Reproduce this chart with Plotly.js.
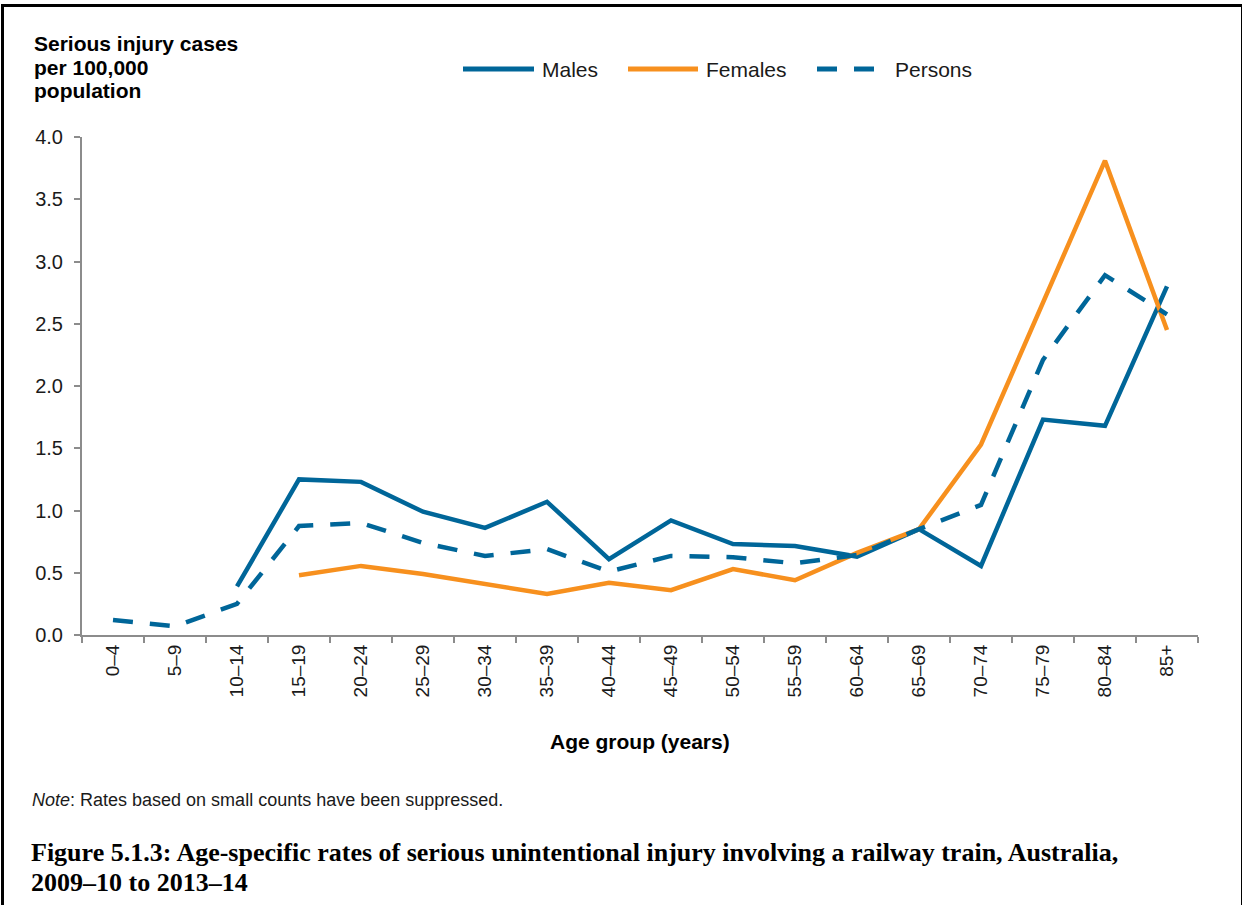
<!DOCTYPE html>
<html>
<head>
<meta charset="utf-8">
<script src="https://cdn.plot.ly/plotly-3.0.1.min.js"></script>
<style>
html,body{margin:0;padding:0;background:#fff;}
#wrap{position:relative;width:1242px;height:905px;overflow:hidden;}
#frame{position:absolute;left:1px;top:4px;width:1237px;height:920px;border:3px solid #000;pointer-events:none;z-index:5;}
#chart{position:absolute;left:0;top:0;width:1242px;height:905px;}
</style>
</head>
<body>
<div id="wrap"><div id="chart"></div><div id="frame"></div></div>
<script>
const ageGroups = ["0–4","5–9","10–14","15–19","20–24","25–29","30–34","35–39","40–44","45–49","50–54","55–59","60–64","65–69","70–74","75–79","80–84","85+"];
const males   = [null, null, 0.39, 1.25, 1.23, 0.99, 0.86, 1.07, 0.61, 0.92, 0.73, 0.715, 0.63, 0.85, 0.555, 1.73, 1.68, 2.80];
const females = [null, null, null, 0.48, 0.555, 0.49, 0.41, 0.33, 0.42, 0.36, 0.53, 0.44, 0.66, 0.85, 1.53, 2.67, 3.81, 2.45];
const persons = [0.12, 0.07, 0.25, 0.875, 0.90, 0.74, 0.635, 0.69, 0.51, 0.635, 0.625, 0.576, 0.643, 0.85, 1.045, 2.21, 2.89, 2.575];
const yTicks = [0, 0.5, 1.0, 1.5, 2.0, 2.5, 3.0, 3.5, 4.0];
const seriesNames = ["Males", "Females", "Persons"];
const yTitleLines = ["Serious injury cases", "per 100,000", "population"];
const captionLines = ["Figure 5.1.3: Age-specific rates of serious unintentional injury involving a railway train, Australia,", "2009–10 to 2013–14"];

const BLUE = "#006699", ORANGE = "#F7901E";
const DASH = "20px,17px";
const LW = 4.5;
const W = 1242, H = 905, L = 82, R = 44, T = 137, B = 270;
const pw = W - L - R, ph = H - T - B;
const px = x => (x - L) / pw;
const py = y => (H - B - y) / ph;

const traces = [
  {x: ageGroups, y: males, name: seriesNames[0], type: "scatter", mode: "lines", line: {color: BLUE, width: LW}},
  {x: ageGroups, y: females, name: seriesNames[1], type: "scatter", mode: "lines", line: {color: ORANGE, width: LW}},
  {x: ageGroups, y: persons, name: seriesNames[2], type: "scatter", mode: "lines", line: {color: BLUE, width: LW, dash: DASH}}
];

const txt = "#1a1a1a";
const SANS = "Liberation Sans, Arial, sans-serif";
const SERIF = "Liberation Serif, serif";
function ann(o) { return Object.assign({xref: "paper", yref: "paper", showarrow: false}, o); }

// custom legend
const legendItems = [
  {name: seriesNames[0], color: BLUE, dash: "solid", x0: 463, x1: 534, tx: 540},
  {name: seriesNames[1], color: ORANGE, dash: "solid", x0: 628, x1: 698, tx: 704},
  {name: seriesNames[2], color: BLUE, dash: DASH, x0: 817, x1: 877, tx: 893}
];
const LEG_Y = 69;

const annotations = [];
yTitleLines.forEach((t, i) => annotations.push(ann({text: "<b>" + t + "</b>", x: px(32), y: py(44 + 23.5 * i), xanchor: "left", yanchor: "middle", font: {family: SANS, size: 21, color: "#000"}})));
legendItems.forEach(it => annotations.push(ann({text: it.name, x: px(it.tx), y: py(LEG_Y), xanchor: "left", yanchor: "middle", font: {family: SANS, size: 21, color: txt}})));
annotations.push(
  ann({text: "<b>Age group (years)</b>", x: px(640), y: py(741), xanchor: "center", yanchor: "middle", font: {family: SANS, size: 21, color: "#000"}}),
  ann({text: "<i>Note</i>: Rates based on small counts have been suppressed.", x: px(30), y: py(800), xanchor: "left", yanchor: "middle", font: {family: SANS, size: 18, color: txt}})
);
captionLines.forEach((t, i) => annotations.push(ann({text: "<b>" + t + "</b>", x: px(29), y: py(852 + 30 * i), xanchor: "left", yanchor: "middle", font: {family: SERIF, size: 26, color: "#000"}})));

const shapes = legendItems.map(it => ({type: "line", xref: "paper", yref: "paper", x0: px(it.x0), x1: px(it.x1), y0: py(LEG_Y), y1: py(LEG_Y), line: {color: it.color, width: 5, dash: it.dash}}));

const layout = {
  width: W, height: H,
  margin: {l: L, r: R, t: T, b: B, pad: 0},
  paper_bgcolor: "#fff", plot_bgcolor: "#fff",
  showlegend: false,
  font: {family: SANS, size: 18, color: txt},
  xaxis: {
    type: "category", categoryorder: "array", categoryarray: ageGroups,
    range: [-0.5, 17.5], tickangle: -90, tickson: "boundaries",
    ticks: "outside", ticklen: 6, tickwidth: 2, tickcolor: "#8c8c8c",
    showline: true, linecolor: "#8c8c8c", linewidth: 2, showgrid: false, zeroline: false,
    tickfont: {family: SANS, size: 19, color: txt}, fixedrange: true
  },
  yaxis: {
    range: [0, 4], tickvals: yTicks, tickformat: ".1f",
    ticks: "outside", ticklen: 6, tickwidth: 2, tickcolor: "#8c8c8c",
    showline: true, linecolor: "#8c8c8c", linewidth: 2, showgrid: false, zeroline: false,
    tickfont: {family: SANS, size: 20, color: txt}, ticklabelstandoff: 7, fixedrange: true
  },
  annotations: annotations,
  shapes: shapes
};

Plotly.newPlot("chart", traces, layout, {displayModeBar: false, staticPlot: true});
</script>
</body>
</html>
